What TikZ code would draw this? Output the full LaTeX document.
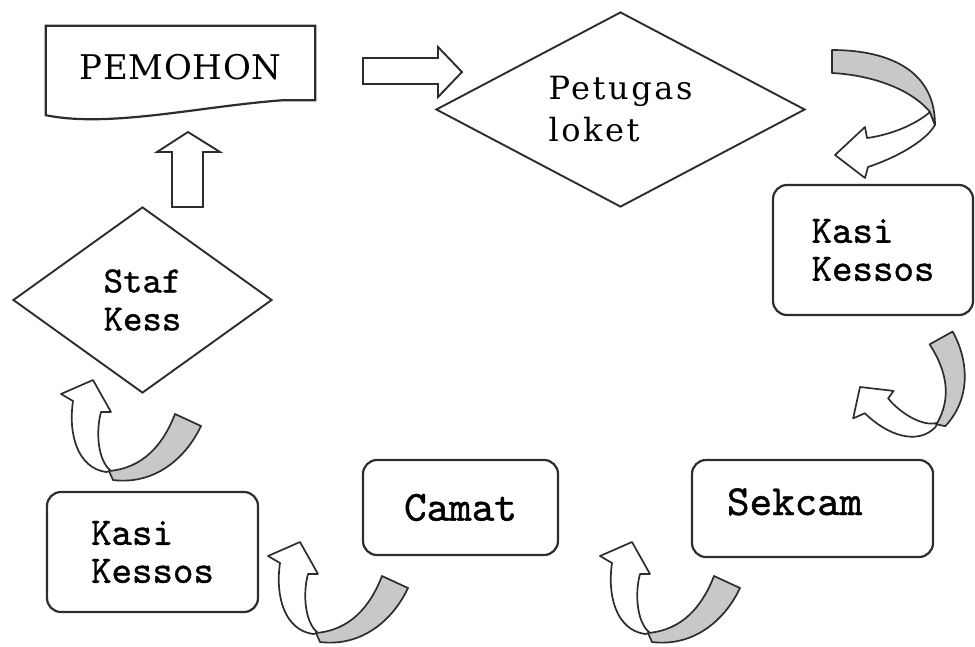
\documentclass[tikz,border=0pt]{standalone}
\usepackage{fontspec}
\setmainfont{DejaVu Serif}
\setmonofont{lmmono10-regular.otf}[FakeBold=1]
\usetikzlibrary{shapes.geometric}
\definecolor{bandgray}{RGB}{200,200,200}
\definecolor{edge}{RGB}{45,45,45}

\tikzset{
  box/.style={draw=edge, line width=2.2pt, rounded corners=14pt, align=left, inner sep=0pt,
    font=\ttfamily\fontsize{39}{38}\selectfont},
  decide/.style={diamond, draw=edge, line width=1.9pt, inner sep=0pt, align=left},
  block/.style={draw=edge, line width=1.9pt, fill=white},
  band/.style={draw=edge, line width=1.7pt, line join=round},
  uturn/.pic={
    \draw[band, fill=white] (0,0) -- (18,32) -- (8,32) .. controls (3,50) and (4,80) .. (18,91)
      -- (13,92) .. controls (-15,88) and (-25,55) .. (-20,21) -- (-32,14) -- cycle;
    \draw[band, fill=bandgray] (82,34) -- (108,46) .. controls (92,80) and (60,105) .. (20,100)
      -- (16,91) .. controls (50,88) and (70,65) .. (82,34) -- cycle;
  }
}

\begin{document}
\begin{tikzpicture}[x=1pt, y=-1pt]
  \useasboundingbox (0,0) rectangle (975,646);

  % steps
  \node[minimum width=269, minimum height=74, inner sep=0pt, text height=34pt,
    font=\fontsize{34}{40}\selectfont\addfontfeatures{LetterSpace=2}] (pemohon) at (180.5,63) {PEMOHON};
  \node[decide, aspect=2, minimum width=369, minimum height=195,
    font=\fontsize{32}{42}\selectfont\addfontfeatures{LetterSpace=8}] (petugas) at (620.5,109.5) {Petugas\\loket};
  \node[box, minimum width=200, minimum height=130] (kasikanan) at (873,250) {Kasi\\Kessos};
  \node[box, minimum width=241, minimum height=97, text width=171pt, inner xsep=35pt,
    text height=26pt, text depth=13pt, font=\ttfamily\fontsize{43}{44}\selectfont] (sekcam) at (812.5,508.5) {Sekcam};
  \node[box, minimum width=195, minimum height=95,
    font=\ttfamily\fontsize{43}{44}\selectfont] (camat) at (460.5,507.5) {Camat};
  \node[box, minimum width=211, minimum height=120] (kasikiri) at (152.5,552) {Kasi\\Kessos};
  \node[decide, aspect=1.4, minimum width=259, minimum height=186,
    font=\ttfamily\fontsize{37}{38}\selectfont] (staf) at (142.5,300) {Staf\\Kess};

  % document outline
  \draw[draw=edge, line width=2.2pt] (pemohon.north west) -- (pemohon.north east) -- (pemohon.south east)
    -- ++(-32,0) .. controls +(-83,6) and +(64,13) .. ([yshift=-15pt]pemohon.south west) -- cycle;

  % block arrows
  \draw[block] (363,58) -- (438,58) -- (438,47) -- (462,72) -- (438,97) -- (438,84) -- (363,84) -- cycle;
  \draw[block] (172,207) -- (172,152) -- (157,152) -- (188,132) -- (220,152) -- (203,152) -- (203,207) -- cycle;

  % curved arrows
  \draw[band, fill=white] (930,112) .. controls (915,125) and (890,135) .. (867,138) -- (865,127)
    -- (835,155) -- (865,178) -- (868,167) .. controls (895,158) and (925,142) .. (935,125) -- cycle;
  \draw[band, fill=bandgray] (832,50) .. controls (880,50) and (935,65) .. (935,125)
    -- (930,112) .. controls (910,88) and (870,75) .. (832,73) -- cycle;
  \pic[rotate=54, scale=0.92] at (860,387) {uturn};
  \pic at (632,542) {uturn};
  \pic at (300,542) {uturn};
  \pic at (93,380) {uturn};
\end{tikzpicture}
\end{document}
